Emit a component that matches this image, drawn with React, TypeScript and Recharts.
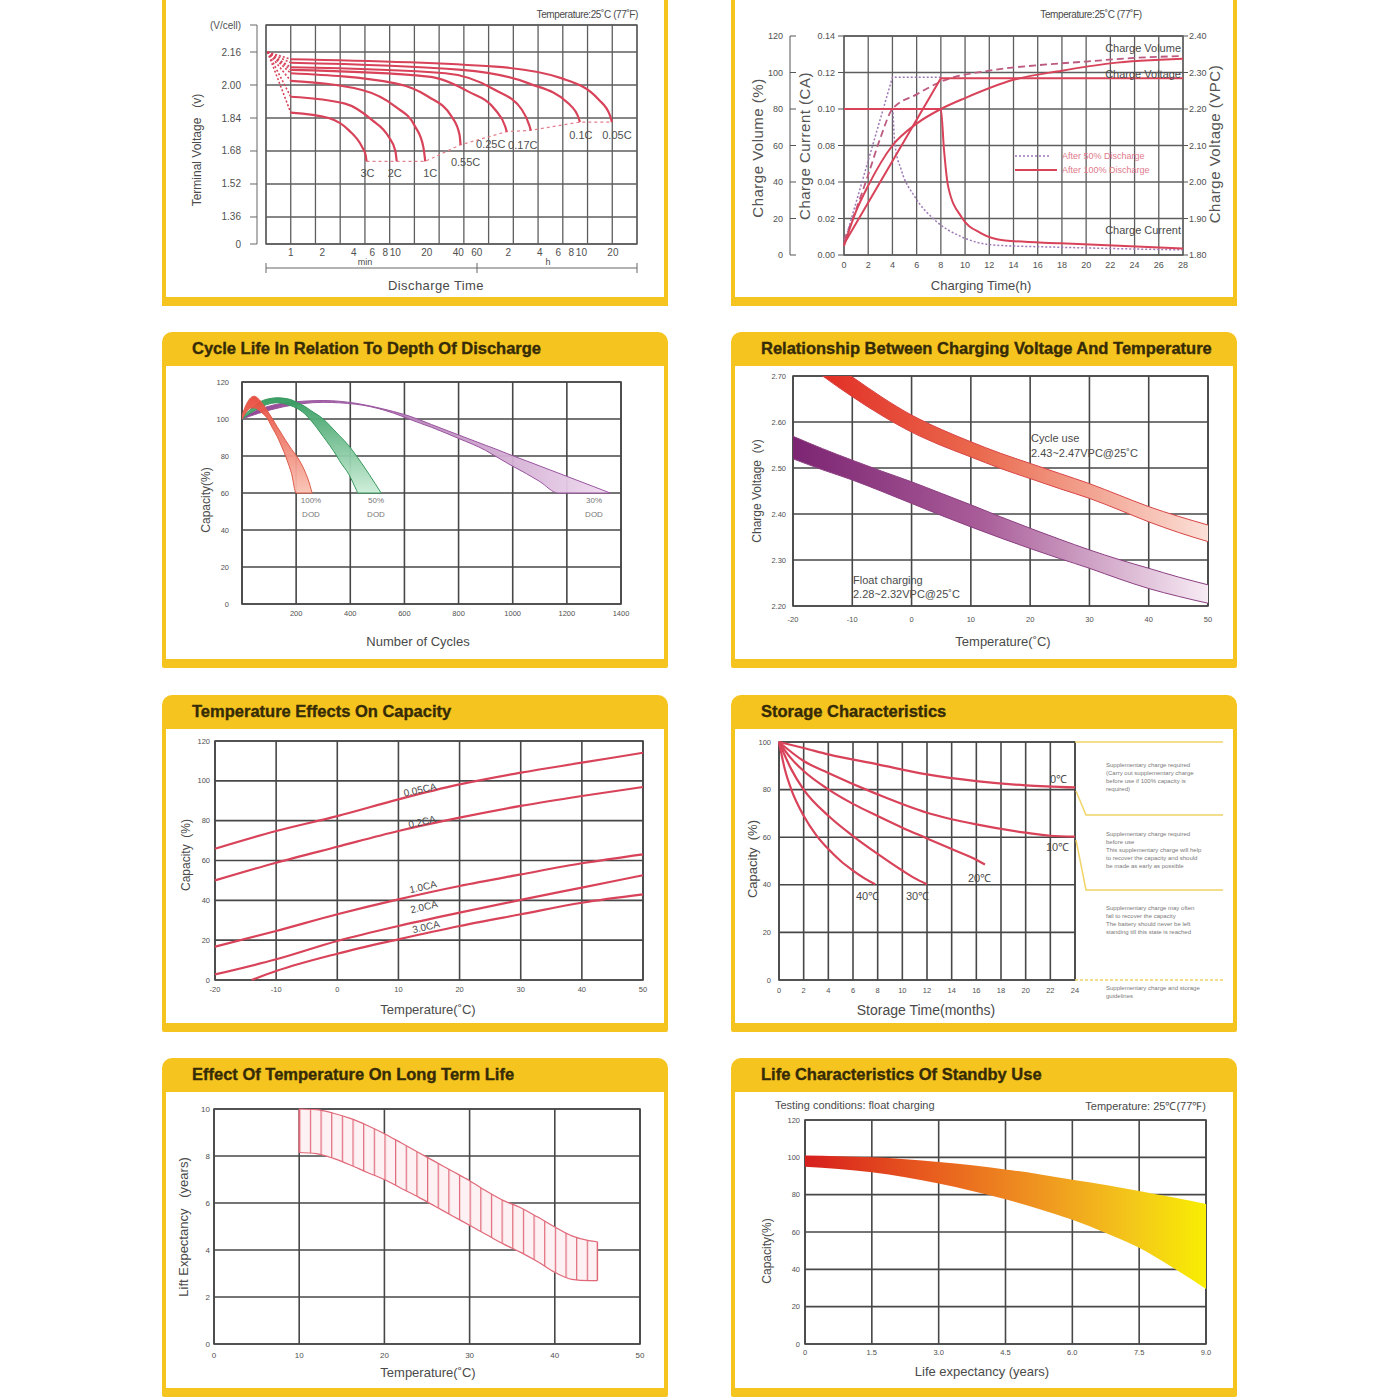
import React from 'react';
import {
  ComposedChart, Line, Area, XAxis, YAxis, CartesianGrid,
  ReferenceArea, ReferenceLine, LabelList,
} from 'recharts';

type Pt = [number, number];

const FONT = '"Liberation Sans", Arial, Helvetica, sans-serif';
const YELLOW = '#f6c41f';
const HEAD_INK = '#352b06';
const GRID_DARK = '#474747';
const GRID_MID = '#5e5e5e';
const RED = '#d8435a';
const INK = '#505050';

// ---- discharge: terminal voltage vs. discharge time (minutes, log axis) ----
const V_TICKS = [1.229, 1.36, 1.52, 1.68, 1.84, 2.0, 2.16, 2.291];
const T_TICKS = [1, 2, 4, 6, 8, 10, 20, 40, 60, 120, 240, 360, 480, 600, 1200];
const T_DOMAIN: [number, number] = [0.58, 2040];
const D_START: Pt = [0.6, 2.16];
const D_RATES = ['3C', '2C', '1C', '0.55C', '0.25C', '0.17C', '0.1C', '0.05C'];
const D_3C: Pt[] = [[1, 1.866], [2.3, 1.84], [3.6, 1.78], [4.8, 1.7], [5.2, 1.66], [5.3, 1.63]];
const D_2C: Pt[] = [[1, 1.943], [3.3, 1.91], [6, 1.83], [8.6, 1.75], [10, 1.68], [10.3, 1.63]];
const D_1C: Pt[] = [[1, 2.02], [4.8, 1.976], [10, 1.895], [15.4, 1.8], [18.5, 1.7], [19.3, 1.63]];
const D_055C: Pt[] = [[1, 2.057], [10, 2.008], [20.7, 1.943], [34.6, 1.846], [41, 1.76], [42, 1.71]];
const D_025C: Pt[] = [[1, 2.073], [20.7, 2.041], [50, 1.968], [90, 1.88], [112, 1.8], [116, 1.774]];
const D_017C: Pt[] = [[1, 2.086], [30, 2.057], [90, 1.976], [162, 1.88], [192, 1.8], [197, 1.78]];
const D_01C: Pt[] = [[1, 2.108], [43, 2.073], [188, 2.008], [452, 1.91], [565, 1.84], [580, 1.82]];
const D_005C: Pt[] = [[1, 2.125], [90, 2.089], [391, 2.032], [876, 1.93], [1130, 1.85], [1175, 1.82]];
const D_CURVES = [D_3C, D_2C, D_1C, D_055C, D_025C, D_017C, D_01C, D_005C];

// ---- charging at constant voltage ----
const CHG_T_TICKS = [0, 2, 4, 6, 8, 10, 12, 14, 16, 18, 20, 22, 24, 26, 28];
const VOL_TICKS = [0, 20, 40, 60, 80, 100, 120];
const CUR_TICK_VALUES = [0, 0.025, 0.05, 0.075, 0.1, 0.125, 0.15];
const CUR_TICK_LABELS = ['0.00', '0.02', '0.04', '0.08', '0.10', '0.12', '0.14'];
const VOLT_TICKS = [1.8, 1.9, 2.0, 2.1, 2.2, 2.3, 2.4];
const CHG_VOL_100: Pt[] = [[0, 5], [1, 24], [2, 38], [4, 60], [6, 72], [8, 80], [10, 86], [14, 96], [18, 101], [22, 105], [28, 107.5]];
const CHG_VOL_50: Pt[] = [[0, 8], [1, 25], [2, 44], [3, 64], [4, 80], [6, 88], [8, 95], [12, 101], [16, 104], [20, 106], [24, 108], [28, 109]];
const CHG_VOLT_100: Pt[] = [[0, 1.83], [8, 2.284], [28, 2.284]];
const CHG_VOLT_50: Pt[] = [[0, 1.83], [4, 2.287], [8, 2.287]];
const CHG_CUR_100: Pt[] = [[0, 0.1], [8, 0.1], [8.26, 0.072], [8.6, 0.047], [9.7, 0.026], [11.3, 0.015], [13.3, 0.01], [17.9, 0.008], [28, 0.0045]];
const CHG_CUR_50: Pt[] = [[0, 0.1], [4, 0.1], [4.19, 0.0765], [4.74, 0.058], [5.84, 0.04], [7.49, 0.024], [9.7, 0.0125], [12.4, 0.0068], [17.9, 0.0053], [28, 0.0035]];

// ---- cycle life vs. depth of discharge ----
const CYC_X_TICKS = [0, 200, 400, 600, 800, 1000, 1200, 1400];
const PCT_TICKS = [0, 20, 40, 60, 80, 100, 120];
const DOD100_X = [0, 20, 35, 46, 60, 80, 95, 100, 113, 130, 140, 161, 170, 183, 200, 206, 230, 245, 259];
const DOD100_HI = [102, 109, 111.8, 112.3, 111, 107.5, 104.2, 103, 100, 95.8, 93.5, 88.5, 86.5, 83.6, 80.3, 79, 72.5, 67, 60];
const DOD100_LO = [100, 104.5, 106, 106, 105, 102.5, 100, 98.6, 95, 90.5, 87.3, 80, 76.3, 70.5, 60, 60, 60, 60, 60];
const DOD50_X = [0, 30, 70, 110, 130, 150, 180, 200, 230, 250, 300, 350, 360, 395, 423, 428, 470, 514];
const DOD50_HI = [101, 105, 109.5, 111.2, 111.5, 111.3, 110.5, 109.2, 107, 105, 100, 92.5, 91, 85.5, 80, 79, 70, 60];
const DOD50_LO = [100, 103, 106.5, 108.5, 108.8, 108.5, 107.2, 106, 103, 100, 90.5, 80, 77.5, 70, 61.5, 60, 60, 60];
const DOD30_X = [0, 60, 150, 300, 420, 520, 600, 620, 700, 800, 900, 935, 990, 1050, 1100, 1168, 1200, 1300, 1360];
const DOD30_HI = [101, 105, 108.5, 110, 108.5, 105.5, 102.4, 101.5, 97, 91.4, 85.8, 83.9, 80.7, 77.4, 74.6, 70.8, 69, 63.4, 60];
const DOD30_LO = [100, 103, 106.5, 109, 108, 105, 101, 99.8, 95.5, 89.5, 83, 80, 75.3, 70.5, 66.2, 60, 60, 60, 60];

// ---- charging voltage vs. temperature ----
const TEMP_TICKS = [-20, -10, 0, 10, 20, 30, 40, 50];
const CV_TICKS = [2.2, 2.3, 2.4, 2.5, 2.6, 2.7];
const CV_T = [-20, -15, -10, -5, 0, 5, 10, 15, 20, 25, 30, 35, 40, 45, 50];
const CYCLE_HI = [2.79, 2.74, 2.698, 2.654, 2.615, 2.584, 2.557, 2.532, 2.51, 2.488, 2.466, 2.441, 2.416, 2.395, 2.376];
const CYCLE_LO = [2.75, 2.7, 2.655, 2.614, 2.578, 2.549, 2.524, 2.499, 2.477, 2.455, 2.434, 2.409, 2.383, 2.36, 2.34];
const FLOAT_HI = [2.569, 2.542, 2.517, 2.493, 2.47, 2.445, 2.42, 2.394, 2.369, 2.345, 2.322, 2.301, 2.282, 2.263, 2.246];
const FLOAT_LO = [2.52, 2.496, 2.474, 2.449, 2.423, 2.397, 2.372, 2.348, 2.325, 2.303, 2.282, 2.259, 2.238, 2.221, 2.206];

// ---- temperature effect on capacity ----
const CAP_T = [-20, -10, 0, 10, 20, 30, 40, 50];
const CAP_005 = [65.9, 74.8, 82.3, 90.7, 98.2, 104.1, 109.1, 114.1];
const CAP_02 = [50, 58.9, 66.9, 74.8, 81.5, 87.4, 92.4, 96.9];
const CAP_10 = [16.7, 24.6, 33, 40.5, 47.2, 53, 58.6, 63.1];
const CAP_20 = [2.8, 10.4, 19.6, 27.1, 33.8, 40.2, 46.4, 52.6];
const CAP_30_T = [-14, -10, 0, 10, 20, 30, 40, 50];
const CAP_30 = [0, 4.5, 13.2, 20.4, 27.1, 33, 38.8, 43];

// ---- storage (self discharge) ----
const MONTH_TICKS = [0, 2, 4, 6, 8, 10, 12, 14, 16, 18, 20, 22, 24];
const STORE_TICKS = [0, 20, 40, 60, 80, 100];
const S_0C: Pt[] = [[0, 100], [2, 97.5], [4, 94.8], [8, 90.6], [12, 86.4], [16, 83.6], [20, 81.8], [24, 80.9]];
const S_10C: Pt[] = [[0, 100], [2, 92], [4, 87], [8, 78], [12, 70.3], [16, 65.4], [20, 61.9], [22, 60.6], [24, 60.2]];
const S_20C: Pt[] = [[0, 100], [1, 93], [2, 87.8], [4, 80.1], [6, 74], [8, 68.9], [10, 64], [12, 59.5], [14, 55], [16, 50.5], [16.7, 48.5]];
const S_30C: Pt[] = [[0, 100], [1, 88.5], [2, 80], [4, 69], [6, 60.5], [8, 53], [10, 46], [11, 42.8], [12, 40.2]];
const S_40C: Pt[] = [[0, 100], [0.5, 88], [1, 80], [2, 69], [3, 61], [4, 55], [5, 50], [6, 46], [7, 42.5], [7.8, 40.2]];

// ---- long term life vs. temperature ----
const LIFE_X_TICKS = [0, 10, 20, 30, 40, 50];
const LIFE_Y_TICKS = [0, 2, 4, 6, 8, 10];
const LIFE_T = [10, 12, 14, 16, 18, 20, 22, 24, 26, 28, 30, 32, 34, 36, 38, 40, 42, 44, 45];
const LIFE_HI = [10, 9.97, 9.82, 9.6, 9.3, 8.95, 8.55, 8.15, 7.75, 7.35, 6.95, 6.5, 6.1, 5.8, 5.4, 4.98, 4.6, 4.4, 4.35];
const LIFE_LO = [8.15, 8.1, 7.9, 7.62, 7.3, 7.0, 6.62, 6.25, 5.85, 5.45, 5.05, 4.65, 4.25, 3.9, 3.5, 3.05, 2.75, 2.7, 2.7];

// ---- standby life ----
const YEAR_TICKS = [0, 1.5, 3, 4.5, 6, 7.5, 9];
const STANDBY_Y = [0, 0.75, 1.5, 2.25, 3, 3.75, 4.5, 5.25, 6, 6.75, 7.5, 8.25, 9];
const STANDBY_HI = [101, 100.6, 100, 99, 97.5, 95.7, 93.5, 91, 88, 85.2, 82, 78.6, 75];
const STANDBY_LO = [95, 93.8, 92, 89.3, 86, 82, 77.5, 72.3, 66.5, 59.5, 51.5, 41, 29.5];

const pts = (p: Pt[]) => p.map(([x, y]) => ({ x, y }));
const zip = (xs: number[], ys: number[]) => xs.map((x, i) => ({ x, y: ys[i] }));
const band = (xs: number[], lo: number[], hi: number[]) => xs.map((x, i) => ({ x, range: [lo[i], hi[i]] }));
const tickFont = (size: number) => ({ fontSize: size, fill: INK, fontFamily: FONT });

type TxtProps = {
  x: number; y: number; size?: number; color?: string; align?: 'left' | 'center' | 'right';
  rotate?: number; spacing?: number; children: React.ReactNode;
};

function Txt({ x, y, size = 12, color = '#4a4a4a', align = 'center', rotate = 0, spacing = 0, children }: TxtProps) {
  const tx = align === 'center' ? '-50%' : align === 'right' ? '-100%' : '0%';
  return (
    <div
      style={{
        position: 'absolute', left: x, top: y, transform: `translate(${tx}, -50%) rotate(${rotate}deg)`,
        fontFamily: FONT, fontSize: size, lineHeight: 1.15, color, letterSpacing: spacing, whiteSpace: 'pre',
      }}
    >
      {children}
    </div>
  );
}

function Panel({ x, y, w, h, title }: { x: number; y: number; w: number; h: number; title?: string }) {
  const head = title ? 34 : 4;
  return (
    <div
      style={{
        position: 'absolute', left: x, top: y, width: w, height: h, background: YELLOW,
        borderRadius: title ? '10px 10px 2px 2px' : 0,
      }}
    >
      <div style={{ position: 'absolute', left: 4, right: 4, top: head, bottom: 9, background: '#fff' }} />
      {title && (
        <div
          style={{
            position: 'absolute', left: 30, top: 7, fontFamily: FONT, fontWeight: 700, fontSize: 16.5,
            lineHeight: '19px', color: HEAD_INK, whiteSpace: 'nowrap', WebkitTextStroke: `0.35px ${HEAD_INK}`,
          }}
        >
          {title}
        </div>
      )}
    </div>
  );
}

function Box({ left, top, children }: { left: number; top: number; children: React.ReactNode }) {
  return <div style={{ position: 'absolute', left, top }}>{children}</div>;
}

// label drawn only at the point carrying a tag (the end of each discharge curve)
const endTag = (dx: number, dy: number) => (p: any) => {
  if (!p.value) return null;
  const x = p.x ?? p.viewBox?.x;
  const y = p.y ?? p.viewBox?.y;
  return (
    <text x={x + dx} y={y + dy} dy="0.35em" textAnchor="middle" fontSize={11} fill={INK} fontFamily={FONT}>
      {p.value}
    </text>
  );
};
const D_TAG_SHIFT: Pt[] = [[1, 12], [-2, 12], [5, 12], [5, 17], [-16, 13], [-8, 15], [1, 13], [5, 13]];

function VoltTick(p: any) {
  const v = p.payload.value;
  const i = V_TICKS.indexOf(v);
  const label = i === 0 ? '0' : i === V_TICKS.length - 1 ? '(V/cell)' : v.toFixed(2);
  return (
    <g>
      <line x1={p.x - 16} x2={p.x - 9} y1={p.y} y2={p.y} stroke="#666" />
      <text x={p.x - 25} y={p.y} dy="0.35em" textAnchor="end" fontSize={10} fill={INK} fontFamily={FONT}>{label}</text>
    </g>
  );
}

function VolumeTick(p: any) {
  return (
    <g>
      <line x1={p.x} x2={p.x + 6} y1={p.y} y2={p.y} stroke="#555" />
      <text x={p.x - 7} y={p.y} dy="0.35em" textAnchor="end" fontSize={9} fill={INK} fontFamily={FONT}>{p.payload.value}</text>
    </g>
  );
}

function DischargeChart() {
  const curves = D_CURVES.map((c, i) =>
    c.map(([x, y], j) => ({ x, y, tag: j === c.length - 1 ? D_RATES[i] : undefined })));
  const starts = D_CURVES.map((c) => pts([D_START, c[0]]));
  const cutoff = pts(D_CURVES.map((c) => c[c.length - 1]));
  return (
    <>
      <Box left={166} top={0}>
        <ComposedChart width={498} height={297} margin={{ top: 25, right: 27, bottom: 33, left: 0 }}>
          <CartesianGrid
            stroke={GRID_MID}
            strokeWidth={1.3}
            verticalCoordinatesGenerator={({ offset }: any) =>
              Array.from({ length: 16 }, (_, i) => offset.left + (i * offset.width) / 15)}
          />
          <XAxis
            dataKey="x" type="number" scale="log" domain={T_DOMAIN} ticks={T_TICKS} interval={0}
            allowDataOverflow height={20} tickSize={0} tickMargin={5} axisLine={false}
            tick={tickFont(10)} tickFormatter={(v: number) => (v <= 60 ? `${v}` : `${v / 60}`)}
          />
          <YAxis
            type="number" domain={[V_TICKS[0], V_TICKS[V_TICKS.length - 1]]} ticks={V_TICKS} interval={0}
            allowDataOverflow width={100} tickSize={0} tickMargin={0} axisLine={false} tick={<VoltTick />}
          />
          <ReferenceArea x1={T_DOMAIN[0]} x2={T_DOMAIN[1]} y1={V_TICKS[0]} y2={V_TICKS[V_TICKS.length - 1]} fill="none" stroke={GRID_MID} strokeWidth={1.3} />
          {starts.map((s, i) => (
            <Line key={`s${i}`} data={s} dataKey="y" type="linear" stroke={RED} strokeWidth={1.6}
              strokeDasharray="2 2" dot={false} activeDot={false} isAnimationActive={false} />
          ))}
          <Line data={cutoff} dataKey="y" type="linear" stroke="#e3808e" strokeWidth={1.2}
            strokeDasharray="3 3" dot={false} activeDot={false} isAnimationActive={false} />
          {curves.map((c, i) => (
            <Line key={D_RATES[i]} data={c} dataKey="y" type="monotone" stroke={RED} strokeWidth={2.2}
              dot={false} activeDot={false} isAnimationActive={false}>
              <LabelList dataKey="tag" content={endTag(D_TAG_SHIFT[i][0], D_TAG_SHIFT[i][1])} />
            </Line>
          ))}
        </ComposedChart>
      </Box>
      <Txt x={638} y={15} size={10} align="right" spacing={-0.4}>Temperature:25˚C (77˚F)</Txt>
      <Txt x={198} y={150} size={12} rotate={-90}>{'Terminal Voltage\u00a0\u00a0 (v)'}</Txt>
      <Txt x={436} y={286} size={13} spacing={0.4}>Discharge Time</Txt>
      <Txt x={365} y={262} size={9}>min</Txt>
      <Txt x={548} y={262} size={9}>h</Txt>
    </>
  );
}

function ChargeChart() {
  return (
    <>
      <Box left={735} top={0}>
        <ComposedChart width={498} height={297} margin={{ top: 36, right: 0, bottom: 22, left: 0 }}>
          <CartesianGrid stroke={GRID_MID} strokeWidth={1.3} yAxisId="vol" />
          <XAxis
            dataKey="x" type="number" domain={[0, 28]} ticks={CHG_T_TICKS} interval={0} height={20}
            tickSize={0} tickMargin={7} axisLine={false} tick={tickFont(9)}
          />
          <YAxis
            yAxisId="cur" orientation="left" width={54} domain={[0, 0.15]} ticks={CUR_TICK_VALUES} interval={0}
            allowDataOverflow tickFormatter={(v: number) => CUR_TICK_LABELS[CUR_TICK_VALUES.indexOf(v)]}
            tickSize={6} tickMargin={3} tickLine={{ stroke: '#555' }} axisLine={false} tick={tickFont(9)}
          />
          <YAxis
            yAxisId="vol" orientation="left" width={55} domain={[0, 120]} ticks={VOL_TICKS} interval={0}
            tickSize={0} tickMargin={0} axisLine={{ stroke: '#555' }} tick={<VolumeTick />}
          />
          <YAxis
            yAxisId="volt" orientation="right" width={50} domain={[1.8, 2.4]} ticks={VOLT_TICKS} interval={0}
            tickFormatter={(v: number) => v.toFixed(2)} tickSize={5} tickMargin={1}
            tickLine={{ stroke: '#555' }} axisLine={false} tick={tickFont(9)}
          />
          <ReferenceArea yAxisId="vol" x1={0} x2={28} y1={0} y2={120} fill="none" stroke={GRID_MID} strokeWidth={1.3} />
          <Line yAxisId="vol" data={pts(CHG_VOL_50)} dataKey="y" type="monotone" stroke="#bd5a80" strokeWidth={1.8}
            strokeDasharray="7 4" dot={false} activeDot={false} isAnimationActive={false} />
          <Line yAxisId="volt" data={pts(CHG_VOLT_50)} dataKey="y" type="linear" stroke="#9f78b6" strokeWidth={1.5}
            strokeDasharray="2 2" dot={false} activeDot={false} isAnimationActive={false} />
          <Line yAxisId="cur" data={pts(CHG_CUR_50)} dataKey="y" type="monotone" stroke="#9f78b6" strokeWidth={1.5}
            strokeDasharray="2 2" dot={false} activeDot={false} isAnimationActive={false} />
          <Line yAxisId="vol" data={pts(CHG_VOL_100)} dataKey="y" type="monotone" stroke={RED} strokeWidth={2}
            dot={false} activeDot={false} isAnimationActive={false} />
          <Line yAxisId="volt" data={pts(CHG_VOLT_100)} dataKey="y" type="linear" stroke={RED} strokeWidth={2}
            dot={false} activeDot={false} isAnimationActive={false} />
          <Line yAxisId="cur" data={pts(CHG_CUR_100)} dataKey="y" type="monotone" stroke={RED} strokeWidth={2}
            dot={false} activeDot={false} isAnimationActive={false} />
        </ComposedChart>
      </Box>
      <Txt x={1091} y={15} size={10} spacing={-0.4}>Temperature:25˚C (77˚F)</Txt>
      <Txt x={758} y={148} size={15} rotate={-90} spacing={0.5} color="#555">Charge Volume (%)</Txt>
      <Txt x={805} y={146} size={15} rotate={-90} spacing={0.5} color="#555">Charge Current (CA)</Txt>
      <Txt x={1215} y={144} size={15} rotate={-90} spacing={0.5} color="#555">Charge Voltage (VPC)</Txt>
      <Txt x={981} y={286} size={13}>Charging Time(h)</Txt>
      <Txt x={1181} y={48} size={11} align="right">Charge Volume</Txt>
      <Txt x={1181} y={74} size={11} align="right">Charge Voltage</Txt>
      <Txt x={1181} y={230} size={11} align="right">Charge Current</Txt>
      <Txt x={1062} y={156} size={9} align="left" color="#e07a8c">After 50% Discharge</Txt>
      <Txt x={1062} y={170} size={9} align="left" color="#e07a8c">After 100% Discharge</Txt>
    </>
  );
}

function CycleLifeChart() {
  return (
    <>
      <Box left={166} top={366}>
        <ComposedChart width={498} height={294} margin={{ top: 16, right: 43, bottom: 36, left: 0 }}>
          <defs>
            <linearGradient id="dodRed" x1="0" y1="0" x2="0" y2="1">
              <stop offset="0%" stopColor="#e8483a" />
              <stop offset="100%" stopColor="#f9c4b4" />
            </linearGradient>
            <linearGradient id="dodGreen" x1="0" y1="0" x2="0" y2="1">
              <stop offset="0%" stopColor="#2f9a5c" />
              <stop offset="100%" stopColor="#cdeed8" />
            </linearGradient>
            <linearGradient id="dodPurple" x1="0" y1="0" x2="1" y2="0">
              <stop offset="0%" stopColor="#8a3a8c" />
              <stop offset="100%" stopColor="#f0dcf0" />
            </linearGradient>
          </defs>
          <CartesianGrid stroke={GRID_DARK} strokeWidth={1.6} />
          <XAxis
            dataKey="x" type="number" domain={[0, 1400]} ticks={CYC_X_TICKS} interval={0} height={20}
            tickSize={0} tickMargin={7} axisLine={false} tick={tickFont(7.5)}
            tickFormatter={(v: number) => (v === 0 ? '' : `${v}`)}
          />
          <YAxis
            type="number" domain={[0, 120]} ticks={PCT_TICKS} interval={0} width={76}
            tickSize={0} tickMargin={13} axisLine={false} tick={tickFont(7.5)}
          />
          <ReferenceArea x1={0} x2={1400} y1={0} y2={120} fill="none" stroke={GRID_DARK} strokeWidth={1.6} />
          <Area data={band(DOD30_X, DOD30_LO, DOD30_HI)} dataKey="range" type="monotone" fill="url(#dodPurple)"
            fillOpacity={0.95} stroke="#9a55a0" strokeWidth={1} dot={false} activeDot={false} isAnimationActive={false} />
          <Area data={band(DOD50_X, DOD50_LO, DOD50_HI)} dataKey="range" type="monotone" fill="url(#dodGreen)"
            fillOpacity={0.95} stroke="#37985e" strokeWidth={1} dot={false} activeDot={false} isAnimationActive={false} />
          <Area data={band(DOD100_X, DOD100_LO, DOD100_HI)} dataKey="range" type="monotone" fill="url(#dodRed)"
            fillOpacity={0.95} stroke="#de5a48" strokeWidth={1} dot={false} activeDot={false} isAnimationActive={false} />
        </ComposedChart>
      </Box>
      <Txt x={418} y={642} size={13}>Number of Cycles</Txt>
      <Txt x={207} y={500} size={12} rotate={-90}>Capacity(%)</Txt>
      <Txt x={311} y={501} size={8} color="#777">100%</Txt>
      <Txt x={311} y={515} size={8} color="#777">DOD</Txt>
      <Txt x={376} y={501} size={8} color="#777">50%</Txt>
      <Txt x={376} y={515} size={8} color="#777">DOD</Txt>
      <Txt x={594} y={501} size={8} color="#777">30%</Txt>
      <Txt x={594} y={515} size={8} color="#777">DOD</Txt>
    </>
  );
}

function ChargeVoltageTempChart() {
  return (
    <>
      <Box left={735} top={366}>
        <ComposedChart width={498} height={294} margin={{ top: 10, right: 25, bottom: 34, left: 0 }}>
          <defs>
            <linearGradient id="cycleFill" x1="0" y1="0" x2="1" y2="0">
              <stop offset="0%" stopColor="#e0241e" />
              <stop offset="45%" stopColor="#ea6a4e" />
              <stop offset="100%" stopColor="#fbe0d8" />
            </linearGradient>
            <linearGradient id="floatFill" x1="0" y1="0" x2="1" y2="0">
              <stop offset="0%" stopColor="#7c2472" />
              <stop offset="45%" stopColor="#a85c98" />
              <stop offset="100%" stopColor="#f7ebf4" />
            </linearGradient>
          </defs>
          <CartesianGrid stroke={GRID_DARK} strokeWidth={1.6} />
          <XAxis
            dataKey="x" type="number" domain={[-20, 50]} ticks={TEMP_TICKS} interval={0} height={20}
            tickSize={0} tickMargin={11} axisLine={false} tick={tickFont(7.5)}
          />
          <YAxis
            type="number" domain={[2.2, 2.7]} ticks={CV_TICKS} interval={0} width={58} allowDataOverflow
            tickSize={0} tickMargin={7} axisLine={false} tick={tickFont(7.5)} tickFormatter={(v: number) => v.toFixed(2)}
          />
          <ReferenceArea x1={-20} x2={50} y1={2.2} y2={2.7} fill="none" stroke={GRID_DARK} strokeWidth={1.6} />
          <Area data={band(CV_T, FLOAT_LO, FLOAT_HI)} dataKey="range" type="monotone" fill="url(#floatFill)"
            fillOpacity={1} stroke="#8c3f82" strokeWidth={1} dot={false} activeDot={false} isAnimationActive={false} />
          <Area data={band(CV_T, CYCLE_LO, CYCLE_HI)} dataKey="range" type="monotone" fill="url(#cycleFill)"
            fillOpacity={1} stroke="#d84444" strokeWidth={1} dot={false} activeDot={false} isAnimationActive={false} />
        </ComposedChart>
      </Box>
      <Txt x={1003} y={642} size={13}>Temperature(˚C)</Txt>
      <Txt x={758} y={491} size={12} rotate={-90}>{'Charge Voltage\u00a0\u00a0(v)'}</Txt>
      <Txt x={1031} y={438} size={11} align="left">Cycle use</Txt>
      <Txt x={1031} y={453} size={11} align="left">2.43~2.47VPC@25˚C</Txt>
      <Txt x={853} y={580} size={11} align="left">Float charging</Txt>
      <Txt x={853} y={594} size={11} align="left">2.28~2.32VPC@25˚C</Txt>
    </>
  );
}

function TempCapacityChart() {
  const series = [zip(CAP_T, CAP_005), zip(CAP_T, CAP_02), zip(CAP_T, CAP_10), zip(CAP_T, CAP_20), zip(CAP_30_T, CAP_30)];
  return (
    <>
      <Box left={166} top={729}>
        <ComposedChart width={498} height={294} margin={{ top: 12, right: 21, bottom: 23, left: 0 }}>
          <CartesianGrid stroke={GRID_DARK} strokeWidth={1.6} />
          <XAxis
            dataKey="x" type="number" domain={[-20, 50]} ticks={TEMP_TICKS} interval={0} height={20}
            tickSize={0} tickMargin={7} axisLine={false} tick={tickFont(7.5)}
          />
          <YAxis
            type="number" domain={[0, 120]} ticks={PCT_TICKS} interval={0} width={49}
            tickSize={0} tickMargin={5} axisLine={false} tick={tickFont(7.5)}
          />
          <ReferenceArea x1={-20} x2={50} y1={0} y2={120} fill="none" stroke={GRID_DARK} strokeWidth={1.6} />
          {series.map((d, i) => (
            <Line key={i} data={d} dataKey="y" type="monotone" stroke={RED} strokeWidth={2.2}
              dot={false} activeDot={false} isAnimationActive={false} />
          ))}
        </ComposedChart>
      </Box>
      <Txt x={428} y={1010} size={13}>Temperature(˚C)</Txt>
      <Txt x={187} y={855} size={12} rotate={-90}>{'Capacity\u00a0 (%)'}</Txt>
      <Txt x={420} y={790} size={10} rotate={-12.5}>0.05CA</Txt>
      <Txt x={422} y={822} size={10} rotate={-12.5}>0.2CA</Txt>
      <Txt x={423} y={887} size={10} rotate={-12.5}>1.0CA</Txt>
      <Txt x={424} y={907} size={10} rotate={-12.5}>2.0CA</Txt>
      <Txt x={426} y={927} size={10} rotate={-12.5}>3.0CA</Txt>
    </>
  );
}

const NOTE_STYLE: React.CSSProperties = {
  position: 'absolute', left: 1106, fontFamily: FONT, fontSize: 6, lineHeight: '8px', color: '#7a7a7a', whiteSpace: 'pre',
};

function StorageChart() {
  const series = [S_0C, S_10C, S_20C, S_30C, S_40C];
  return (
    <>
      <Box left={735} top={729}>
        <ComposedChart width={498} height={294} margin={{ top: 13, right: 158, bottom: 23, left: 0 }}>
          <CartesianGrid stroke={GRID_DARK} strokeWidth={1.6} />
          <XAxis
            dataKey="x" type="number" domain={[0, 24]} ticks={MONTH_TICKS} interval={0} height={20}
            tickSize={0} tickMargin={8} axisLine={false} tick={tickFont(7.5)}
          />
          <YAxis
            type="number" domain={[0, 100]} ticks={STORE_TICKS} interval={0} width={44}
            tickSize={0} tickMargin={8} axisLine={false} tick={tickFont(7.5)}
          />
          <ReferenceArea x1={0} x2={24} y1={0} y2={100} fill="none" stroke={GRID_DARK} strokeWidth={1.6} />
          {series.map((d, i) => (
            <Line key={i} data={pts(d)} dataKey="y" type="monotone" stroke={RED} strokeWidth={2.2}
              dot={false} activeDot={false} isAnimationActive={false} />
          ))}
        </ComposedChart>
      </Box>
      <Txt x={926} y={1010} size={14}>Storage Time(months)</Txt>
      <Txt x={753} y={859} size={13} rotate={-90}>{'Capacity\u00a0 (%)'}</Txt>
      <Txt x={1050} y={779} size={11} align="left">0℃</Txt>
      <Txt x={1046} y={847} size={11} align="left">10℃</Txt>
      <Txt x={968} y={878} size={11} align="left">20℃</Txt>
      <Txt x={856} y={896} size={11} align="left">40℃</Txt>
      <Txt x={906} y={896} size={11} align="left">30℃</Txt>
      <div style={{ ...NOTE_STYLE, top: 761 }}>
        {'Supplementary charge required\n(Carry out supplementary charge\nbefore use if 100% capacity is\nrequired)'}
      </div>
      <div style={{ ...NOTE_STYLE, top: 830 }}>
        {'Supplementary charge required\nbefore use\nThis supplementary charge will help\nto recover the capacity and should\nbe made as early as possible'}
      </div>
      <div style={{ ...NOTE_STYLE, top: 904 }}>
        {'Supplementary charge may often\nfail to recover the capacity\nThe battery should never be left\nstanding till this state is reached'}
      </div>
      <div style={{ ...NOTE_STYLE, top: 984 }}>
        {'Supplementary charge and storage\nguidelines'}
      </div>
    </>
  );
}

function LongLifeChart() {
  const last = LIFE_T.length - 1;
  return (
    <>
      <Box left={166} top={1092}>
        <ComposedChart width={498} height={296} margin={{ top: 17, right: 24, bottom: 24, left: 0 }}>
          <defs>
            <pattern id="lifeHatch" patternUnits="userSpaceOnUse" x={133.2} y={0} width={10.65} height={8}>
              <rect width={10.65} height={8} fill="#fdf1f3" />
              <line x1={0.6} y1={0} x2={0.6} y2={8} stroke="#e06878" strokeWidth={1.2} />
            </pattern>
          </defs>
          <CartesianGrid stroke={GRID_DARK} strokeWidth={1.6} />
          <XAxis
            dataKey="x" type="number" domain={[0, 50]} ticks={LIFE_X_TICKS} interval={0} height={20}
            tickSize={0} tickMargin={8} axisLine={false} tick={tickFont(8)}
          />
          <YAxis
            type="number" domain={[0, 10]} ticks={LIFE_Y_TICKS} interval={0} width={48}
            tickSize={0} tickMargin={4} axisLine={false} tick={tickFont(8)}
          />
          <ReferenceArea x1={0} x2={50} y1={0} y2={10} fill="none" stroke={GRID_DARK} strokeWidth={1.6} />
          <Area data={band(LIFE_T, LIFE_LO, LIFE_HI)} dataKey="range" type="monotone" fill="url(#lifeHatch)"
            fillOpacity={1} stroke="#e06878" strokeWidth={1.2} dot={false} activeDot={false} isAnimationActive={false} />
          <ReferenceLine segment={[{ x: LIFE_T[0], y: LIFE_LO[0] }, { x: LIFE_T[0], y: LIFE_HI[0] }]} stroke="#e06878" strokeWidth={1.5} />
          <ReferenceLine segment={[{ x: LIFE_T[last], y: LIFE_LO[last] }, { x: LIFE_T[last], y: LIFE_HI[last] }]} stroke="#e06878" strokeWidth={1.5} />
        </ComposedChart>
      </Box>
      <Txt x={428} y={1373} size={13}>Temperature(˚C)</Txt>
      <Txt x={184} y={1227} size={13} rotate={-90}>{'Lift Expectancy\u00a0\u00a0 (years)'}</Txt>
    </>
  );
}

function StandbyChart() {
  return (
    <>
      <Box left={735} top={1092}>
        <ComposedChart width={498} height={296} margin={{ top: 28, right: 27, bottom: 24, left: 0 }}>
          <defs>
            <linearGradient id="standbyFill" x1="0" y1="0" x2="1" y2="0">
              <stop offset="0%" stopColor="#d61f1e" />
              <stop offset="30%" stopColor="#e85a1e" />
              <stop offset="58%" stopColor="#ef9420" />
              <stop offset="82%" stopColor="#f4c81a" />
              <stop offset="100%" stopColor="#f8ee02" />
            </linearGradient>
          </defs>
          <CartesianGrid stroke={GRID_DARK} strokeWidth={1.6} />
          <XAxis
            dataKey="x" type="number" domain={[0, 9]} ticks={YEAR_TICKS} interval={0} height={20}
            tickSize={0} tickMargin={6} axisLine={false} tick={tickFont(7.5)}
            tickFormatter={(v: number) => (v === 0 ? '0' : v.toFixed(1))}
          />
          <YAxis
            type="number" domain={[0, 120]} ticks={PCT_TICKS} interval={0} width={70}
            tickSize={0} tickMargin={5} axisLine={false} tick={tickFont(7.5)}
          />
          <ReferenceArea x1={0} x2={9} y1={0} y2={120} fill="none" stroke={GRID_DARK} strokeWidth={1.6} />
          <Area data={band(STANDBY_Y, STANDBY_LO, STANDBY_HI)} dataKey="range" type="monotone" fill="url(#standbyFill)"
            fillOpacity={1} stroke="none" dot={false} activeDot={false} isAnimationActive={false} />
        </ComposedChart>
      </Box>
      <Txt x={982} y={1372} size={13}>Life expectancy (years)</Txt>
      <Txt x={768} y={1251} size={12} rotate={-90}>Capacity(%)</Txt>
      <Txt x={775} y={1105} size={11} align="left">Testing conditions: float charging</Txt>
      <Txt x={1206} y={1106} size={11} align="right">Temperature: 25℃(77℉)</Txt>
    </>
  );
}

// axis rails, time bracket, legend swatches and the storage guide lines
function Decor() {
  return (
    <svg width={1400} height={1400} style={{ position: 'absolute', left: 0, top: 0, pointerEvents: 'none' }}>
      <g stroke="#666" strokeWidth={1}>
        <line x1={257} y1={25} x2={257} y2={244} />
        <line x1={266} y1={268} x2={637} y2={268} />
        <line x1={266} y1={263} x2={266} y2={273} />
        <line x1={477} y1={263} x2={477} y2={273} />
        <line x1={637} y1={263} x2={637} y2={273} />
      </g>
      <line x1={1015} y1={156} x2={1050} y2={156} stroke="#9f78b6" strokeWidth={1.6} strokeDasharray="2 2" />
      <line x1={1015} y1={170} x2={1057} y2={170} stroke={RED} strokeWidth={2} />
      <g stroke="#f0d468" strokeWidth={1.5} fill="none">
        <line x1={1075} y1={742} x2={1223} y2={742} />
        <polyline points="1076,791 1086,815 1223,815" />
        <polyline points="1076,840 1086,890 1223,890" />
        <line x1={1075} y1={980} x2={1223} y2={980} strokeDasharray="3 2" />
      </g>
    </svg>
  );
}

export default function App() {
  return (
    <div style={{ position: 'absolute', left: 0, top: 0, width: 1400, height: 1400, background: '#fff', overflow: 'hidden' }}>
      <Panel x={162} y={-4} w={506} h={310} />
      <Panel x={731} y={-4} w={506} h={310} />
      <Panel x={162} y={332} w={506} h={336} title="Cycle Life In Relation To Depth Of Discharge" />
      <Panel x={731} y={332} w={506} h={336} title="Relationship Between Charging Voltage And Temperature" />
      <Panel x={162} y={695} w={506} h={337} title="Temperature Effects On Capacity" />
      <Panel x={731} y={695} w={506} h={337} title="Storage Characteristics" />
      <Panel x={162} y={1058} w={506} h={339} title="Effect Of Temperature On Long Term Life" />
      <Panel x={731} y={1058} w={506} h={339} title="Life Characteristics Of Standby Use" />
      <DischargeChart />
      <ChargeChart />
      <CycleLifeChart />
      <ChargeVoltageTempChart />
      <TempCapacityChart />
      <StorageChart />
      <LongLifeChart />
      <StandbyChart />
      <Decor />
    </div>
  );
}
